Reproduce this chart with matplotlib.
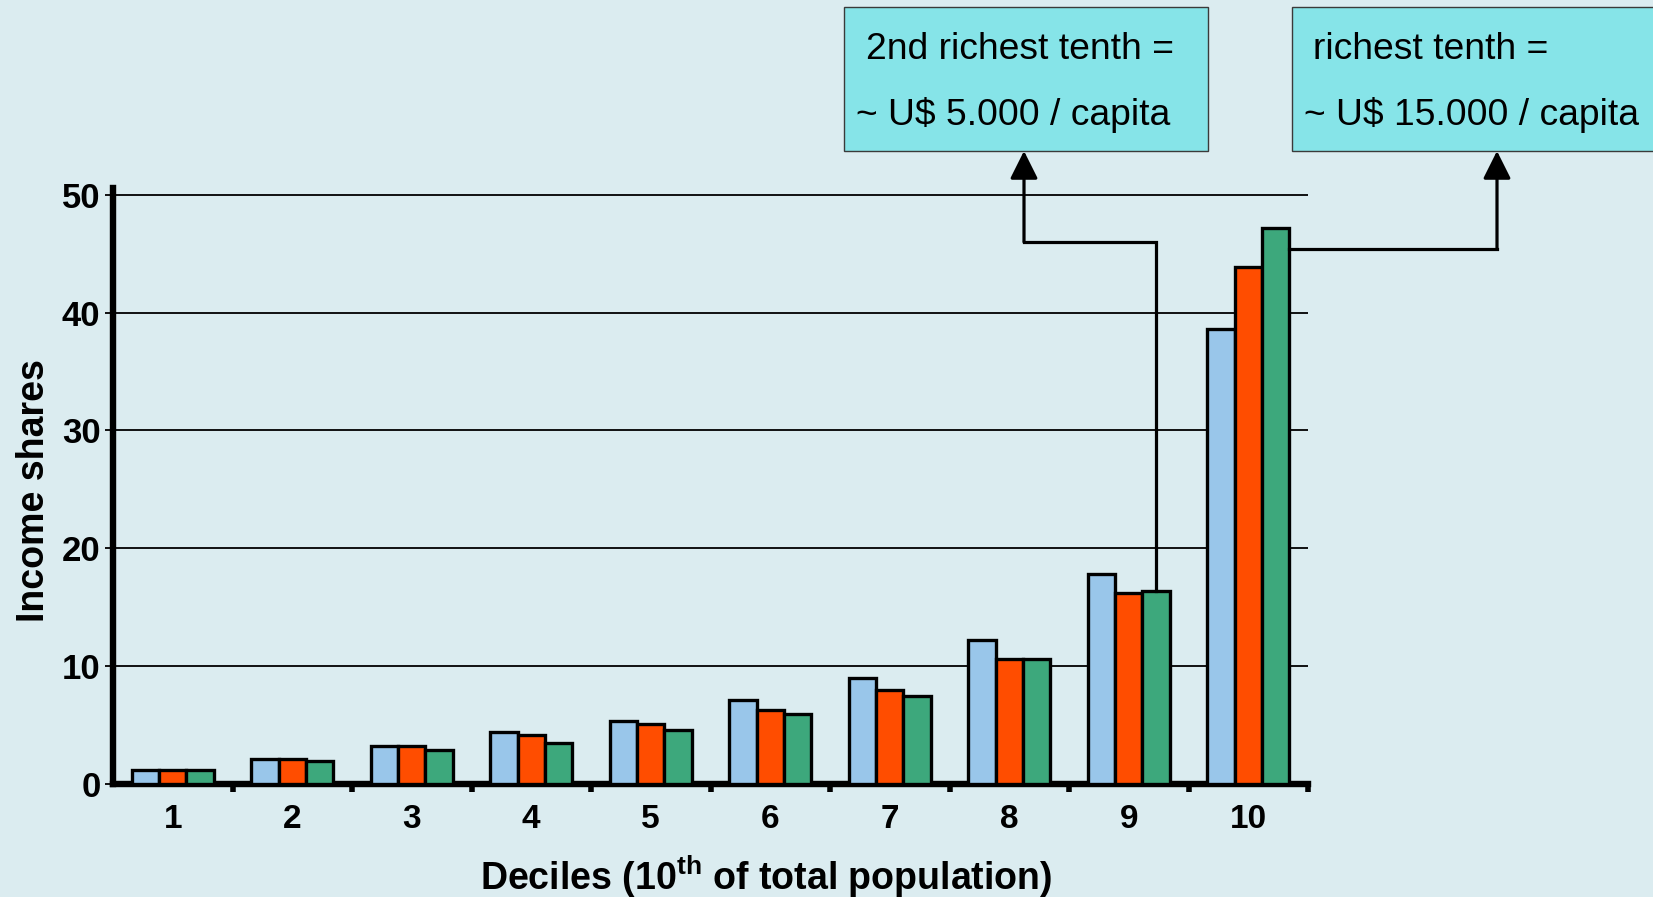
import matplotlib
matplotlib.use("Agg")
import matplotlib.pyplot as plt
from matplotlib.patches import Rectangle, FancyArrowPatch
from matplotlib.lines import Line2D
import numpy as np

# ---- data ----
deciles = ["1", "2", "3", "4", "5", "6", "7", "8", "9", "10"]
shares_a = [1.2, 2.15, 3.2, 4.4, 5.35, 7.1, 9.0, 12.2, 17.8, 38.6]
shares_b = [1.2, 2.15, 3.2, 4.2, 5.1, 6.3, 8.0, 10.6, 16.2, 43.9]
shares_c = [1.2, 1.95, 2.9, 3.5, 4.6, 5.9, 7.5, 10.6, 16.4, 47.2]
y_ticks = [0, 10, 20, 30, 40, 50]
note_second = ["2nd richest tenth =", "~ U$ 5.000 / capita"]
note_first = ["richest tenth =", "~ U$ 15.000 / capita"]
x_title = r"Deciles (10$^{\mathrm{th}}$ of total population)"
y_title = "Income shares"

# ---- style ----
BG = "#DBECF0"
BOX = "#86E4E8"
COLORS = ["#99C6EA", "#FF4D00", "#3DA87C"]

plt.rcParams["font.family"] = ["Liberation Sans", "DejaVu Sans"]
plt.rcParams["mathtext.fontset"] = "custom"
plt.rcParams["mathtext.rm"] = "Liberation Sans:bold"
plt.rcParams["mathtext.it"] = "Liberation Sans:bold"
plt.rcParams["mathtext.bf"] = "Liberation Sans:bold"

W, H = 1653, 897
fig = plt.figure(figsize=(W / 100, H / 100), dpi=100, facecolor=BG)


def fx(px):
    return px / W


def fy(py):
    # pixel measured from the top edge -> figure fraction
    return 1 - py / H


# axes box in pixels: left 113, right 1308, top 188, bottom 784
ax = fig.add_axes([fx(113), fy(784), fx(1308 - 113), (784 - 188) / H])
ax.set_facecolor(BG)

x = np.arange(1, len(deciles) + 1)
bw = 0.23
series = [shares_a, shares_b, shares_c]
for i, (vals, col) in enumerate(zip(series, COLORS)):
    ax.bar(x + (i - 1) * bw, vals, width=bw, color=col, edgecolor="black",
           linewidth=2.4, zorder=3)

ax.set_xlim(0.5, 10.5)
ax.set_ylim(0, 50.57)
ax.set_yticks(y_ticks)
ax.set_yticklabels([str(v) for v in y_ticks], fontsize=25, fontweight="bold")
ax.yaxis.grid(True, color="black", linewidth=1.3)
ax.set_axisbelow(True)

ax.set_xticks(x)
ax.set_xticklabels(deciles, fontsize=24, fontweight="bold")
ax.set_xticks(np.arange(1.5, 10.6, 1.0), minor=True)
ax.tick_params(axis="x", which="major", length=0, pad=14.5)
ax.tick_params(axis="x", which="minor", length=5.5, width=4, direction="out",
               color="black")
ax.tick_params(axis="y", which="major", length=6, width=1.3, pad=3,
               direction="out")

for s in ["top", "right"]:
    ax.spines[s].set_visible(False)
ax.spines["left"].set_linewidth(4.6)
ax.spines["bottom"].set_linewidth(4.6)

# axis titles
fig.text(fx(766), fy(890), x_title, ha="center", va="baseline",
         fontsize=27, fontweight="bold")
fig.text(fx(34), fy(491), y_title, ha="center", va="center", rotation=90,
         fontsize=27, fontweight="bold")

# ---- callout boxes ----
box_top, box_bot = 7, 151
fig.patches.append(Rectangle((fx(844), fy(box_bot)), fx(1208 - 844),
                             (box_bot - box_top) / H, transform=fig.transFigure,
                             facecolor=BOX, edgecolor="#3a3a3a", linewidth=1.0,
                             zorder=1))
fig.patches.append(Rectangle((fx(1292), fy(box_bot)), fx(1700 - 1292),
                             (box_bot - box_top) / H, transform=fig.transFigure,
                             facecolor=BOX, edgecolor="#3a3a3a", linewidth=1.0,
                             zorder=1))

txt_kw = dict(fontsize=26.8, ha="left", va="baseline", color="black")
fig.text(fx(866), fy(59), note_second[0], **txt_kw)
fig.text(fx(856), fy(125), note_second[1], **txt_kw)
fig.text(fx(1313), fy(59), note_first[0], **txt_kw)
fig.text(fx(1304), fy(125), note_first[1], **txt_kw)

# ---- connector lines from the top bars to the boxes ----
to_fig = ax.transData + fig.transFigure.inverted()

# 9th decile, third series: from the bar top up, left, then up to the box
p0 = to_fig.transform((x[8] + bw, shares_c[8]))
elbow_y = fy(242)
arrow_x1 = fx(1024)
fig.add_artist(Line2D([p0[0], p0[0], arrow_x1], [p0[1], elbow_y, elbow_y],
                      transform=fig.transFigure, color="black", linewidth=2.3,
                      solid_joinstyle="miter"))

# 10th decile, third series: from the bar's right edge across, then up
p1 = to_fig.transform((x[9] + 1.5 * bw, 0))
elbow_y2 = fy(249)
arrow_x2 = fx(1497)
fig.add_artist(Line2D([p1[0], arrow_x2], [elbow_y2, elbow_y2],
                      transform=fig.transFigure, color="black", linewidth=2.3,
                      solid_joinstyle="miter"))

for ax_x, start_y in [(arrow_x1, elbow_y), (arrow_x2, elbow_y2)]:
    arr = FancyArrowPatch((ax_x, start_y), (ax_x, fy(box_bot)),
                          transform=fig.transFigure,
                          arrowstyle="-|>,head_length=17,head_width=8.5",
                          mutation_scale=1, color="black", linewidth=2.3,
                          shrinkA=0, shrinkB=0)
    fig.add_artist(arr)

fig.savefig("out.png", dpi=100, facecolor=BG)
